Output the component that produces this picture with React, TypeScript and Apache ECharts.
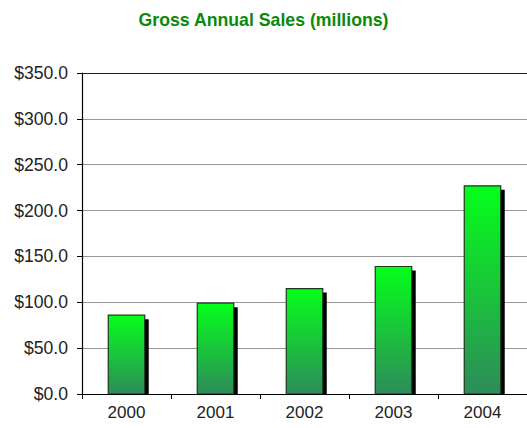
import React, { useEffect, useRef } from "react";
import * as echarts from "echarts";

const categories = ["2000", "2001", "2002", "2003", "2004"];
const sales = [86, 99, 115, 139, 227];
const yTicks = [0, 50, 100, 150, 200, 250, 300, 350];
const titleText = "Gross Annual Sales (millions)";

export default function App() {
  const ref = useRef<HTMLDivElement>(null);
  useEffect(() => {
    document.body.style.margin = "0";
    const chart = echarts.init(ref.current!, null, { renderer: "svg" });
    const font = "'Liberation Sans', Arial, sans-serif";
    chart.setOption({
      animation: false,
      backgroundColor: "#ffffff",
      title: {
        text: titleText,
        left: "center",
        top: 6,
        textStyle: { color: "#0a8a0a", fontSize: 17.7, fontWeight: "bold", fontFamily: font },
      },
      grid: { left: 82, top: 73, width: 452, bottom: 34 },
      xAxis: {
        type: "category",
        data: categories,
        axisLine: { lineStyle: { color: "#000", width: 1.2 } },
        axisTick: { show: true, length: 5, lineStyle: { color: "#000" } },
        axisLabel: { color: "#222", fontSize: 17, fontFamily: font, margin: 10 },
        z: 5,
      },
      yAxis: {
        type: "value",
        min: yTicks[0],
        max: yTicks[yTicks.length - 1],
        interval: 50,
        axisLine: { show: true, lineStyle: { color: "#000", width: 1.2 } },
        axisTick: { show: true, length: 5, lineStyle: { color: "#000" } },
        axisLabel: {
          color: "#222",
          fontSize: 17.6,
          fontFamily: font,
          margin: 14,
          formatter: (v: number) => "$" + v.toFixed(1),
        },
        splitLine: {
          show: true,
          lineStyle: {
            color: ["#999", "#999", "#999", "#999", "#999", "#999", "#999", "#222"],
            width: 1.2,
          },
        },
      },
      series: [
        {
          type: "custom",
          data: sales.map((v, i) => [i, v]),
          encode: { x: 0, y: 1 },
          renderItem: (params: any, api: any) => {
            const idx = api.value(0);
            const val = api.value(1);
            const top = api.coord([idx, val]);
            const base = api.coord([idx, 0]);
            const bw = api.size([1, 0])[0] * 0.41;
            const x0 = top[0] - bw / 2;
            const h = base[1] - top[1];
            return {
              type: "group",
              children: [
                {
                  type: "rect",
                  shape: { x: x0 + 4, y: top[1] + 4, width: bw, height: h - 4 },
                  style: { fill: "#000" },
                },
                {
                  type: "rect",
                  shape: { x: x0, y: top[1], width: bw, height: h },
                  style: {
                    fill: new echarts.graphic.LinearGradient(0, 0, 0, 1, [
                      { offset: 0, color: "#05ff1a" },
                      { offset: 1, color: "#2e8b5a" },
                    ]),
                    stroke: "#1c3a1c",
                    lineWidth: 1.2,
                  },
                },
              ],
            };
          },
        },
      ],
    });
    return () => chart.dispose();
  }, []);
  return (
    <div
      ref={ref}
      style={{ position: "absolute", left: 0, top: 0, width: 527, height: 428, overflow: "hidden" }}
    />
  );
}
